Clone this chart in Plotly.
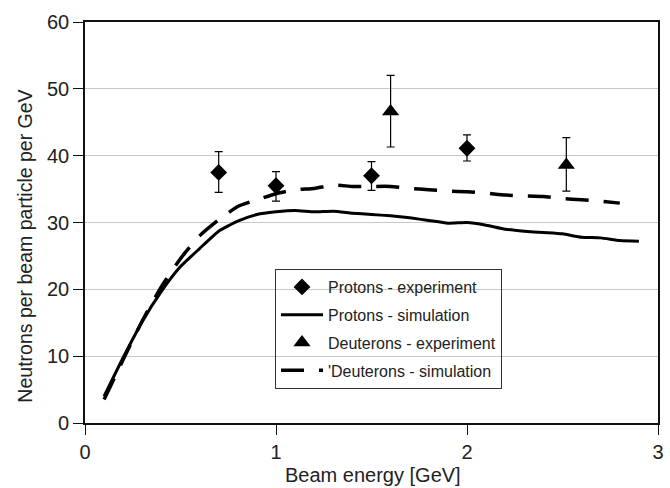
import plotly.graph_objects as go

# Protons - experiment
p_exp_x = [0.7, 1.0, 1.5, 2.0]
p_exp_y = [37.5, 35.5, 37.0, 41.1]
p_exp_err_plus = [3.1, 2.1, 2.1, 2.0]
p_exp_err_minus = [3.0, 2.3, 2.2, 1.9]

# Deuterons - experiment
d_exp_x = [1.6, 2.52]
d_exp_y = [46.6, 38.6]
d_exp_err_plus = [5.4, 4.1]
d_exp_err_minus = [5.3, 3.9]

# Protons - simulation
p_sim_x = [0.1, 0.2, 0.3, 0.4, 0.5, 0.6, 0.7, 0.8, 0.9, 1.0, 1.1, 1.2, 1.3, 1.4, 1.5,
           1.6, 1.7, 1.8, 1.9, 2.0, 2.1, 2.2, 2.3, 2.4, 2.5, 2.6, 2.7, 2.8, 2.9]
p_sim_y = [4.0, 9.8, 15.2, 19.7, 23.4, 26.1, 28.7, 30.2, 31.2, 31.6, 31.8, 31.6, 31.7,
           31.4, 31.2, 31.0, 30.7, 30.3, 29.9, 30.0, 29.6, 29.0, 28.7, 28.5, 28.3,
           27.8, 27.7, 27.3, 27.2]

# Deuterons - simulation
d_sim_x = [0.1, 0.2, 0.3, 0.4, 0.5, 0.6, 0.7, 0.8, 0.9, 1.0, 1.1, 1.2, 1.3, 1.4, 1.5,
           1.6, 1.7, 1.8, 1.9, 2.0, 2.1, 2.2, 2.3, 2.4, 2.5, 2.6, 2.7, 2.8]
d_sim_y = [3.5, 9.5, 15.3, 20.4, 24.6, 28.0, 30.4, 32.4, 33.4, 34.3, 34.9, 35.1, 35.6,
           35.4, 35.4, 35.4, 35.1, 34.9, 34.7, 34.6, 34.4, 34.1, 34.0, 33.9, 33.6,
           33.4, 33.2, 32.9]

x_ticks = [0, 1, 2, 3]
y_ticks = [0, 10, 20, 30, 40, 50, 60]

x_title = "Beam energy [GeV]"
y_title = "Neutrons per beam particle per GeV"

FONT = "Liberation Sans, Arial, Helvetica, sans-serif"

fig = go.Figure()

fig.add_trace(go.Scatter(
    x=p_exp_x, y=p_exp_y, mode="markers", name="Protons - experiment",
    legendgroup="a",
    marker=dict(symbol="diamond", size=13, color="black"),
    error_y=dict(type="data", array=p_exp_err_plus, arrayminus=p_exp_err_minus,
                 color="black", thickness=1.2, width=4),
))
fig.add_trace(go.Scatter(
    x=p_sim_x, y=p_sim_y, mode="lines", name="Protons - simulation",
    legendgroup="b", line=dict(color="black", width=3, shape="spline", smoothing=0.5),
))
fig.add_trace(go.Scatter(
    x=d_exp_x, y=d_exp_y, mode="markers", name="Deuterons - experiment",
    legendgroup="c",
    marker=dict(symbol="triangle-up", size=15, color="black"),
    error_y=dict(type="data", array=d_exp_err_plus, arrayminus=d_exp_err_minus,
                 color="black", thickness=1.2, width=4),
))
fig.add_trace(go.Scatter(
    x=d_sim_x, y=d_sim_y, mode="lines", name="'Deuterons - simulation",
    legendgroup="d",
    line=dict(color="black", width=3.5, dash="23px,15px", shape="spline", smoothing=0.5),
))

fig.update_layout(
    width=670, height=488,
    margin=dict(l=85, r=6, t=22, b=65),
    paper_bgcolor="white", plot_bgcolor="white",
    font=dict(family=FONT, size=20, color="#222"),
    showlegend=True,
    legend=dict(
        x=0.3316, y=0.384, xanchor="left", yanchor="top",
        bgcolor="rgba(0,0,0,0)", bordercolor="#333", borderwidth=1,
        font=dict(family=FONT, size=16, color="#222"),
        tracegroupgap=4, itemwidth=42,
        traceorder="grouped",
    ),
    xaxis=dict(
        range=[0, 3], tickvals=x_ticks, ticktext=[str(v) for v in x_ticks],
        showgrid=False, zeroline=False,
        showline=True, linecolor="#111", linewidth=1.6, mirror=True,
        ticks="outside", ticklen=10, tickcolor="#111", tickwidth=1.4,
        ticklabelstandoff=0,
    ),
    yaxis=dict(
        range=[0, 60], tickvals=y_ticks, ticktext=[str(v) for v in y_ticks],
        showgrid=True, gridcolor="#c8c8c8", gridwidth=1.2, zeroline=False,
        showline=True, linecolor="#111", linewidth=1.6, mirror=True,
        ticks="outside", ticklen=10, tickcolor="#111", tickwidth=1.4,
    ),
    annotations=[
        dict(text=x_title, xref="paper", yref="paper",
             x=(376.5 - 85) / 579, y=(423 - 475) / 401,
             xanchor="center", yanchor="middle", showarrow=False,
             font=dict(family=FONT, size=20, color="#222")),
        dict(text=y_title, xref="paper", yref="paper",
             x=(24 - 85) / 579, y=(423 - 246) / 401, textangle=-90,
             xanchor="center", yanchor="middle", showarrow=False,
             font=dict(family=FONT, size=19.5, color="#222")),
    ],
)

fig.write_html("out.html")
